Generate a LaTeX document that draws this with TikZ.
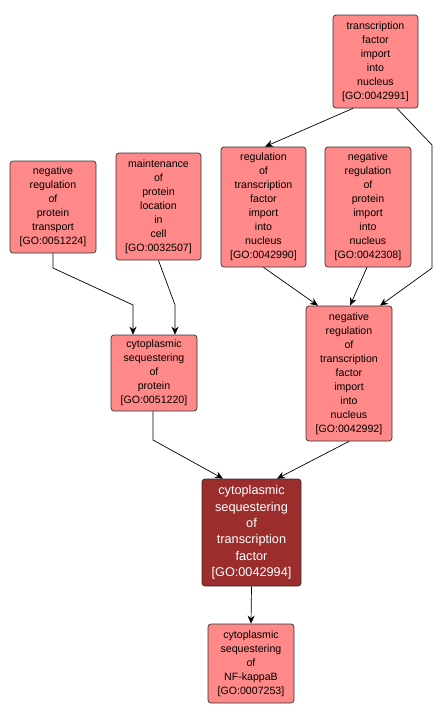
\documentclass[tikz,border=0pt]{standalone}
\usepackage{fontspec}
\setmainfont{Liberation Sans}
\usetikzlibrary{arrows.meta}
\definecolor{goterm}{RGB}{255,137,137}
\definecolor{goquery}{RGB}{155,45,45}
\tikzset{
	term/.style={draw=black!80, line width=0.7pt, fill=goterm, rounded corners=3pt, align=center, inner sep=0pt,
		font=\fontsize{10.6}{14}\selectfont},
	query/.style={term, fill=goquery, text=white, font=\fontsize{12.7}{16.4}\selectfont},
	isa/.style={draw=black, line width=0.7pt, -{Stealth[length=8pt,width=7pt]}}
}
\begin{document}
\begin{tikzpicture}[x=1pt,y=-1pt]
		\useasboundingbox (0,0) rectangle (441,720);

		% Terms
		\node[term, minimum width=85pt, minimum height=93pt] (tfimport) at (375.5,61.5) {transcription\\factor\\import\\into\\nucleus\\{[GO:0042991]}};
		\node[term, minimum width=86pt, minimum height=92pt] (negprottrans) at (53,207) {negative\\regulation\\of\\protein\\transport\\{[GO:0051224]}};
		\node[term, minimum width=85pt, minimum height=107pt] (maintloc) at (158.5,206.5) {maintenance\\of\\protein\\location\\in\\cell\\{[GO:0032507]}};
		\node[term, minimum width=85pt, minimum height=120pt] (regtfimport) at (263.5,207) {regulation\\of\\transcription\\factor\\import\\into\\nucleus\\{[GO:0042990]}};
		\node[term, minimum width=86pt, minimum height=120pt] (negprotimport) at (368,207) {negative\\regulation\\of\\protein\\import\\into\\nucleus\\{[GO:0042308]}};
		\node[term, minimum width=86pt, minimum height=76pt] (seqprot) at (154,373) {cytoplasmic\\sequestering\\of\\protein\\{[GO:0051220]}};
		\node[term, minimum width=86pt, minimum height=135pt] (negtfimport) at (349,373.5) {negative\\regulation\\of\\transcription\\factor\\import\\into\\nucleus\\{[GO:0042992]}};
		\node[query, minimum width=99pt, minimum height=107pt] (seqtf) at (251.5,532.5) {cytoplasmic\\sequestering\\of\\transcription\\factor\\{[GO:0042994]}};
		\node[term, minimum width=86pt, minimum height=79pt] (seqnfkb) at (251,663.5) {cytoplasmic\\sequestering\\of\\NF-kappaB\\{[GO:0007253]}};

		% Edges
		\draw[isa] ([xshift=-22.5pt]tfimport.south) -- ([xshift=1.5pt]regtfimport.north);
		\draw[isa] ([xshift=21.5pt]tfimport.south) -- (432,145) -- (432,268) -- ([xshift=31pt]negtfimport.north);
		\draw[isa] (regtfimport.south) -- ([xshift=-31pt]negtfimport.north);
		\draw[isa] ([xshift=-1pt]negprotimport.south) -- ([xshift=1pt]negtfimport.north);
		\draw[isa] (negprottrans.south) -- (53,268) -- (133,305) -- ([xshift=-21pt]seqprot.north);
		\draw[isa] (maintloc.south) -- (175,305) -- ([xshift=21pt]seqprot.north);
		\draw[isa] ([xshift=-1pt]seqprot.south) -- (153,440) -- ([xshift=-28.5pt]seqtf.north);
		\draw[isa] (negtfimport.south) -- ([xshift=25.5pt]seqtf.north);
		\draw[isa] (seqtf.south) -- (seqnfkb.north);
	\end{tikzpicture}
\end{document}
